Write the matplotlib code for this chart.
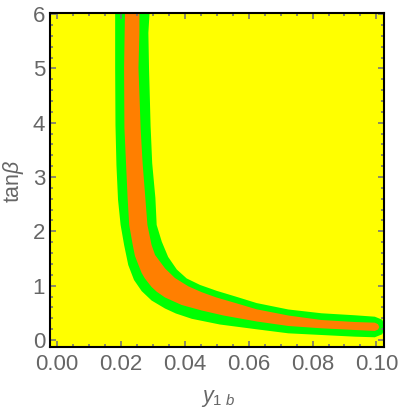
import matplotlib.pyplot as plt
import numpy as np

# band edges, (y_1b, tan beta) pairs
# green band: upper-left edge from top to the end at y=0.1, then the round end
green_out_x = [0.0182, 0.0182, 0.0183, 0.0186, 0.0191, 0.0199, 0.0210, 0.0223, 0.0241,
               0.0265, 0.0296, 0.0338, 0.0372, 0.0422, 0.0510, 0.0625, 0.0724, 0.0828,
               0.0933, 0.0995, 0.1018, 0.1028, 0.1018]
green_out_t = [6.15, 5.01, 3.96, 3.22, 2.58, 2.12, 1.75, 1.38, 1.105,
               0.90, 0.727, 0.580, 0.488, 0.390, 0.285, 0.197, 0.123, 0.092,
               0.061, 0.050, 0.105, 0.239, 0.374]
# green band: lower-right edge from the end back up to the top
green_in_x = [0.0995, 0.0933, 0.0828, 0.0724, 0.0625, 0.0562, 0.0500, 0.0448, 0.0406,
              0.0375, 0.0348, 0.0328, 0.0312, 0.0308, 0.0298, 0.0293, 0.0288, 0.0286, 0.0291]
green_in_t = [0.429, 0.455, 0.492, 0.562, 0.680, 0.795, 0.905, 1.013, 1.133,
              1.298, 1.529, 1.810, 2.118, 2.615, 3.254, 3.941, 5.009, 5.654, 6.15]

orange_out_x = [0.0213, 0.0210, 0.0211, 0.0216, 0.0221, 0.0226, 0.0237, 0.0244, 0.0255,
                0.0265, 0.0275, 0.0296, 0.0312, 0.0338, 0.0390, 0.0453, 0.0521, 0.0625,
                0.0724, 0.0828, 0.0933, 0.0995, 0.1005, 0.1009, 0.1005]
orange_out_t = [6.15, 5.01, 3.904, 3.254, 2.615, 2.118, 1.75, 1.547, 1.381,
                1.234, 1.133, 0.976, 0.889, 0.783, 0.645, 0.543, 0.451, 0.341,
                0.258, 0.215, 0.184, 0.166, 0.193, 0.239, 0.291]
orange_in_x = [0.0995, 0.0933, 0.0828, 0.0724, 0.0625, 0.0562, 0.0498, 0.0453, 0.0411,
               0.0369, 0.0338, 0.0307, 0.0296, 0.0283, 0.0277, 0.0268, 0.0262, 0.0255,
               0.0258, 0.0258]
orange_in_t = [0.319, 0.331, 0.368, 0.451, 0.565, 0.675, 0.785, 0.880, 0.989,
               1.142, 1.320, 1.565, 1.75, 2.118, 2.578, 3.254, 3.867, 5.009,
               5.654, 6.15]

x_ticks = [0.00, 0.02, 0.04, 0.06, 0.08, 0.10]
y_ticks = [0, 1, 2, 3, 4, 5, 6]

plt.rcParams['font.family'] = ['Liberation Sans', 'DejaVu Sans']
plt.rcParams['mathtext.fontset'] = 'custom'
plt.rcParams['mathtext.rm'] = 'Liberation Sans'
plt.rcParams['mathtext.it'] = 'Liberation Sans:italic'

gray = '#666666'
fig = plt.figure(figsize=(4.0, 4.11), dpi=100)
ax = fig.add_axes([0.125, 0.1565, 0.834, 0.811])
ax.set_facecolor('#ffff00')

ax.fill(np.concatenate([green_out_x, green_in_x]), np.concatenate([green_out_t, green_in_t]),
        color='#00ff00', lw=0)
ax.fill(np.concatenate([orange_out_x, orange_in_x]), np.concatenate([orange_out_t, orange_in_t]),
        color='#ff7f00', lw=0)

ax.set_xlim(-0.0022, 0.10225)
ax.set_ylim(-0.123, 6.013)

ax.set_xticks(x_ticks)
ax.set_xticklabels([f"{v:.2f}" for v in x_ticks])
ax.set_yticks(y_ticks)
ax.set_xticks(np.arange(0, 0.1001, 0.005), minor=True)
ax.set_yticks(np.arange(0, 6.001, 0.2), minor=True)
ax.tick_params(which='both', direction='in', top=True, right=True, color='#777777',
               labelcolor=gray, labelsize=16, width=1.2)
ax.tick_params(which='major', length=4, pad=3.5)
ax.tick_params(which='minor', length=2.5)
ax.tick_params(axis='x', pad=5)

for s in ax.spines.values():
    s.set_linewidth(1.5)
    s.set_color('black')

fig.text(218 / 400, 1 - 402 / 411, r'$y_{1\ b}$', color=gray, fontsize=15.5,
         ha='center', va='baseline')
fig.text(13 / 400, 1 - 181 / 411, r'tan$\beta$', color=gray, fontsize=15.5,
         ha='center', va='center', rotation=90)

fig.savefig('out.png', dpi=100)
